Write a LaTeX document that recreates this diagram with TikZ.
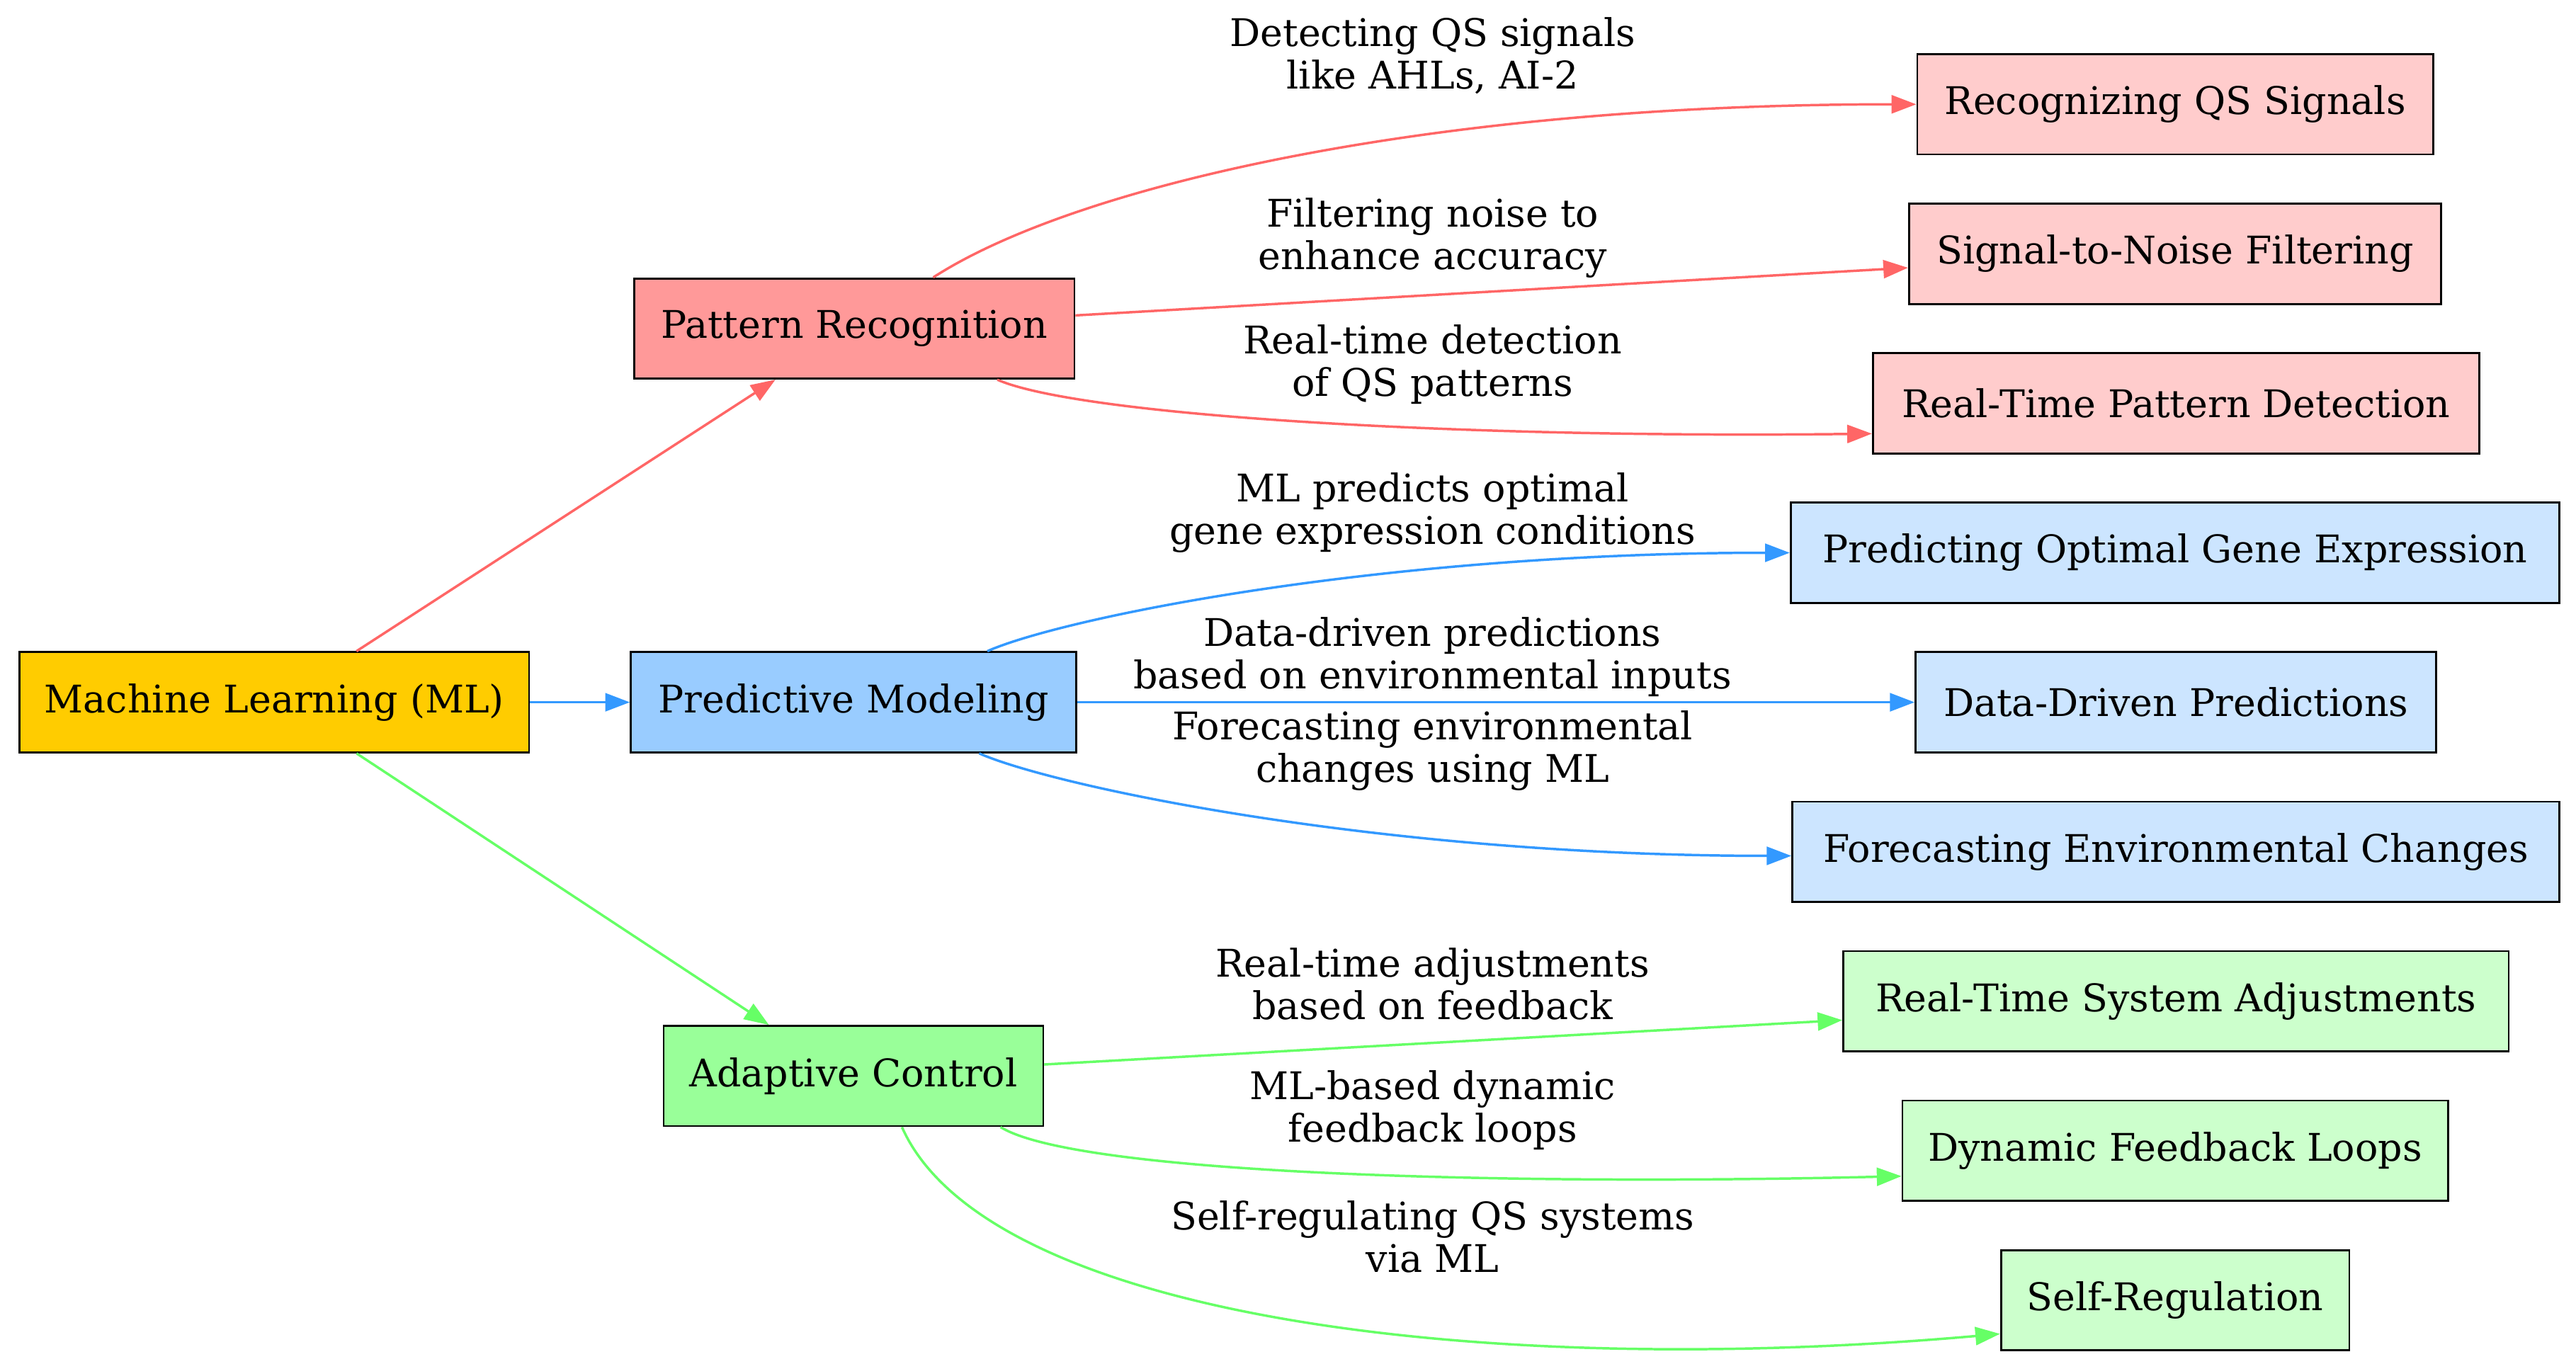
\documentclass[tikz,border=0pt]{standalone}
\usepackage{fontspec}
\setmainfont{DejaVu Serif}
\usetikzlibrary{arrows.meta}
\definecolor{mlgold}{HTML}{FFCC00}
\definecolor{prfill}{HTML}{FF9999}
\definecolor{prlight}{HTML}{FFCCCC}
\definecolor{predge}{HTML}{FF6666}
\definecolor{pmfill}{HTML}{99CCFF}
\definecolor{pmlight}{HTML}{CCE5FF}
\definecolor{pmedge}{HTML}{3399FF}
\definecolor{acfill}{HTML}{99FF99}
\definecolor{aclight}{HTML}{CCFFCC}
\definecolor{acedge}{HTML}{66FF66}

\begin{document}
\begin{tikzpicture}[x=0.5pt,y=-0.5pt,
  every node/.style={font=\fontsize{11.6}{12.9}\selectfont},
  box/.style={draw=black,line width=0.6pt,minimum height=30.5pt,inner sep=0pt},
  lbl/.style={align=center,inner sep=0pt},
  link/.style={line width=0.75pt,-{Triangle[length=7.5pt,width=5.5pt]}}]
  \useasboundingbox (0,0) rectangle (1568,830);
  \node[box,fill=mlgold,minimum width=155pt] (ml) at (167,427.5) {Machine Learning (ML)};
  \node[box,fill=prfill,minimum width=134pt] (pr) at (520,200) {Pattern Recognition};
  \node[box,fill=pmfill,minimum width=135.5pt] (pm) at (519.5,427.5) {Predictive Modeling};
  \node[box,fill=acfill,minimum width=115.5pt] (ac) at (519.5,655) {Adaptive Control};
  \node[box,fill=prlight,minimum width=157pt] (qs) at (1324,63.5) {Recognizing QS Signals};
  \node[box,fill=prlight,minimum width=162pt] (snf) at (1324,154.5) {Signal-to-Noise Filtering};
  \node[box,fill=prlight,minimum width=184.5pt] (rtpd) at (1324.5,245.5) {Real-Time Pattern Detection};
  \node[box,fill=pmlight,minimum width=234pt] (poge) at (1324,336.5) {Predicting Optimal Gene Expression};
  \node[box,fill=pmlight,minimum width=158.5pt] (ddp) at (1324.5,427.5) {Data-Driven Predictions};
  \node[box,fill=pmlight,minimum width=233.5pt] (fec) at (1324.5,518.5) {Forecasting Environmental Changes};
  \node[box,fill=aclight,minimum width=202.5pt] (rtsa) at (1324.5,609.5) {Real-Time System Adjustments};
  \node[box,fill=aclight,minimum width=166pt] (dfl) at (1324,700.5) {Dynamic Feedback Loops};
  \node[box,fill=aclight,minimum width=106pt] (sr) at (1324,791.5) {Self-Regulation};

  \node[lbl] (lqs) at (872,34) {Detecting QS signals\\like AHLs, AI-2};
  \node[lbl] (lsnf) at (872,145) {Filtering noise to\\enhance accuracy};
  \node[lbl] (lrtpd) at (872,222) {Real-time detection\\of QS patterns};
  \node[lbl] (lpoge) at (872,312) {ML predicts optimal\\gene expression conditions};
  \node[lbl] (lddp) at (872,400) {Data-driven predictions\\based on environmental inputs};
  \node[lbl] (lfec) at (872,457) {Forecasting environmental\\changes using ML};
  \node[lbl] (lrtsa) at (872,599) {Real-time adjustments\\based on feedback};
  \node[lbl] (ldfl) at (872,676) {ML-based dynamic\\feedback loops};
  \node[lbl] (lsr) at (872,753) {Self-regulating QS systems\\via ML};

  \draw[link,predge] ([xshift=25pt]ml.north) -- ([xshift=-24pt]pr.south);
  \draw[link,pmedge] (ml.east) -- (pm.west);
  \draw[link,acedge] ([xshift=25pt]ml.south) -- ([xshift=-25.75pt]ac.north);

  \draw[link,predge] ([xshift=24pt]pr.north) .. controls +(85,-55) and +(-300,0) .. (qs.west);
  \draw[link,predge] ([yshift=4pt]pr.east) -- ([yshift=-4.25pt]snf.west);
  \draw[link,predge] ([xshift=43.5pt]pr.south) .. controls +(50,22) and +(-250,3) .. ([yshift=-9.25pt]rtpd.west);

  \draw[link,pmedge] ([xshift=40.75pt]pm.north) .. controls +(45,-20) and +(-250,0) .. (poge.west);
  \draw[link,pmedge] (pm.east) -- (ddp.west);
  \draw[link,pmedge] ([xshift=38.25pt]pm.south) .. controls +(45,20) and +(-250,0) .. ([yshift=-1.25pt]fec.west);

  \draw[link,acedge] ([yshift=3.5pt]ac.east) -- ([yshift=-5.75pt]rtsa.west);
  \draw[link,acedge] ([xshift=44.75pt]ac.south) .. controls +(45,28) and +(-250,6) .. ([yshift=-7.75pt]dfl.west);
  \draw[link,acedge] ([xshift=14.75pt]ac.south) .. controls +(51,115) and +(-318,28) .. ([yshift=-10.25pt]sr.west);
\end{tikzpicture}
\end{document}
